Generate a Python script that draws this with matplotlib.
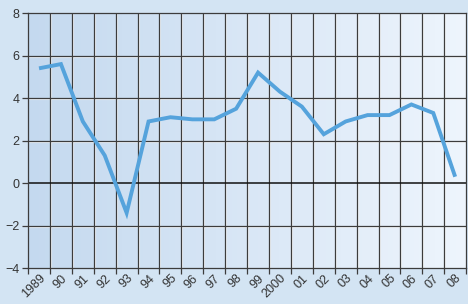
import numpy as np
import matplotlib
matplotlib.use("Agg")
import matplotlib.pyplot as plt
import matplotlib.transforms as mtransforms
from matplotlib.colors import LinearSegmentedColormap

years = list(range(1989, 2009))
labels = ["1989", "90", "91", "92", "93", "94", "95", "96", "97", "98",
          "99", "2000", "01", "02", "03", "04", "05", "06", "07", "08"]
growth = [5.4, 5.6, 2.9, 1.3, -1.4, 2.9, 3.1, 3.0, 3.0, 3.5,
          5.2, 4.3, 3.6, 2.3, 2.9, 3.2, 3.2, 3.7, 3.3, 0.3]
yticks = [-4, -2, 0, 2, 4, 6, 8]

fig = plt.figure(figsize=(4.68, 3.04), dpi=100, facecolor="#d3e4f3")
ax = fig.add_axes([0.060, 0.118, 0.936, 0.839])

x0, x1 = years[0] - 0.5, years[-1] + 0.5

# background gradient, darker on the left
cmap = LinearSegmentedColormap.from_list("bg", ["#c4d9ef", "#eef5fd"])
grad = np.linspace(0, 1, 256).reshape(1, -1)
ax.imshow(grad, cmap=cmap, aspect="auto", extent=(x0, x1, -4, 8), zorder=0)

# grid lines with a light edge next to them
shift = mtransforms.offset_copy(ax.transData, fig=fig, x=1, y=-1, units="dots")
for b in np.arange(x0 + 1, x1, 1):
    ax.plot([b, b], [-4, 8], color="white", lw=0.8, alpha=0.7, zorder=1, transform=shift)
    ax.axvline(b, color="#3c3c3c", lw=0.9, zorder=2)
for v in yticks[1:-1]:
    if v == 0:
        continue
    ax.plot([x0, x1], [v, v], color="white", lw=0.8, alpha=0.7, zorder=1, transform=shift)
    ax.axhline(v, color="#3c3c3c", lw=0.9, zorder=2)
ax.axhline(0, color="#111111", lw=1.1, zorder=2)

ax.plot(years, growth, color="#55a3dc", lw=2.8, zorder=3,
        solid_joinstyle="miter", solid_capstyle="butt")
ax.set_xlim(x0, x1)
ax.set_ylim(-4, 8)

for s in ax.spines.values():
    s.set_color("#3c3c3c")
    s.set_linewidth(0.9)

ax.set_yticks(yticks)
ax.set_yticklabels([str(v).replace("-", "\u2212") for v in yticks])
ax.tick_params(axis="y", length=4, width=0.9, color="#3c3c3c",
               labelsize=9, labelcolor="#333333", pad=2)

ax.set_xticks(years)
ax.set_xticklabels(labels, rotation=45, ha="right", rotation_mode="anchor")
ax.tick_params(axis="x", length=0, labelsize=9, labelcolor="#333333", pad=3)
ax.set_xticks(np.arange(x0, x1 + 0.01, 1), minor=True)
ax.tick_params(axis="x", which="minor", length=4, width=0.9,
               color="#3c3c3c", direction="out")

for t in ax.get_xticklabels() + ax.get_yticklabels():
    t.set_fontfamily("Liberation Sans")

fig.savefig("out.png", dpi=100, facecolor=fig.get_facecolor())
